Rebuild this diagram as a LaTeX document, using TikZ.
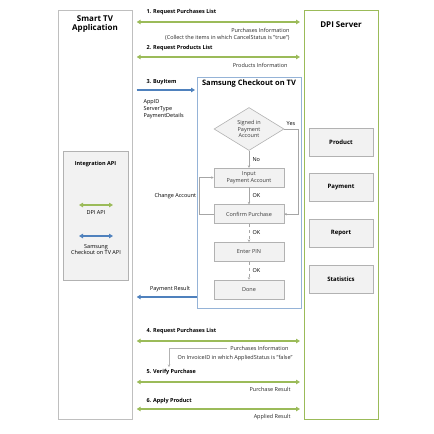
\documentclass[tikz,border=0pt]{standalone}
\usepackage{fontspec}
\setmainfont{Open Sans}
\usepackage{tikz}
\usetikzlibrary{positioning,arrows.meta,shapes.geometric}
\definecolor{dpigreen}{HTML}{9BBB59}
\definecolor{sctvblue}{HTML}{4F81BD}

\begin{document}
\begin{tikzpicture}[x=1pt, y=-1pt,
lane/.style = {draw=gray!50, line width=0.7pt, anchor=north west, minimum width=74pt, minimum height=409pt, inner sep=0pt},
greybox/.style = {draw=gray!60, fill=gray!10, line width=0.6pt, minimum width=70pt, minimum height=19pt, text=gray!45!black, align=center},
srvbox/.style = {greybox, minimum width=64pt, minimum height=28pt, text=black, font=\fontsize{6}{7}\selectfont\bfseries},
msg/.style = {dpigreen, line width=1.3pt, {Triangle[length=4pt,width=4.5pt]}-{Triangle[length=4pt,width=4.5pt]}},
link/.style = {msg, shorten <=4pt, shorten >=4pt},
buy/.style = {sctvblue, line width=1.3pt, -{Triangle[length=4pt,width=4.5pt]}},
flow/.style = {draw=gray!70, line width=0.5pt, -{Stealth[length=2.5pt,width=2.5pt]}},
msglabel/.style = {anchor=west, font=\fontsize{5.5}{6.5}\selectfont\bfseries},
reply/.style = {anchor=east, align=right, text=gray!30!black},
title/.style = {font=\fontsize{8}{9.5}\selectfont\bfseries, align=center}]
\tikzstyle{every node}=[font=\fontsize{5.5}{6.8}\selectfont]
\useasboundingbox (0,0) rectangle (434,434);
% lanes
\node[lane] (1) at (58,10) {};
\node[lane, draw=dpigreen] (2) at (304,10) {};
\node[title] (1t) at (95,24) {Smart TV\\Application};
\node[title] (2t) at (341,25) {DPI Server};
% samsung checkout on tv
\node[lane, draw=sctvblue!60, minimum width=104pt, minimum height=231pt] (3) at (197,77) {};
\node[title, font=\fontsize{7.5}{9}\selectfont\bfseries] (3t) at (249,84) {Samsung Checkout on TV};
\node[diamond, draw=gray!60, fill=gray!10, line width=0.6pt, shape aspect=1.6, minimum width=70pt, minimum height=43pt, inner sep=0pt, align=center, text=gray!45!black] (4) at (249,129) {Signed in\\Payment\\Account};
\node[greybox] (5) [below=17pt of 4] {Input\\Payment Account};
\node[greybox] (6) [below=17pt of 5] {Confirm Purchase};
\node[greybox] (7) [below=18pt of 6] {Enter PIN};
\node[greybox] (8) [below=18pt of 7] {Done};
\draw[flow] (4) -- node[right] {No} (5);
\draw[flow] (5) -- node[right] {OK} (6);
\draw[flow, dashed] (7.north |- 6.south) -- node[right] {OK} (7);
\draw[flow, dashed] (7) -- node[right] {OK} (8);
\draw[flow] (4.east) -| ([xshift=14pt]6.east) -- (6.east);
\node (9) at (291,124) {Yes};
\draw[flow] (6.west) -- ++(-14,0) |- node[left, pos=0.25] {Change Account} (5.west);
% integration api
\node[greybox, anchor=north west, minimum width=65pt, minimum height=129pt] (10) at (63,151) {};
\node[font=\fontsize{5.5}{6.5}\selectfont\bfseries] (11) at (95.5,164) {Integration API};
\coordinate (12a) at (79,205);
\coordinate (12b) at (113,205);
\draw[msg] (12a) -- (12b);
\node (13) at (96,213) {DPI API};
\coordinate (14a) at (79,236);
\coordinate (14b) at (113,236);
\draw[msg, sctvblue] (14a) -- (14b);
\node[align=center] (15) at (96,249.5) {Samsung\\Checkout on TV API};
% dpi server parts
\node[srvbox] (16) at (341,142) {Product};
\node[srvbox] (17) at (341,187.5) {Payment};
\node[srvbox] (18) at (341,233) {Report};
\node[srvbox] (19) at (341,279) {Statistics};
% messages
\node[msglabel] (20) at (143,12) {1. Request Purchases List};
\draw[link] (1.east |- 0,22) -- (2.west |- 0,22);
\node[reply, anchor=north east] (21) at (293,25) {Purchases Information\\(Collect the items in which CancelStatus is "true")};
\node[msglabel] (22) at (143,48) {2. Request Products List};
\draw[link] (1.east |- 0,57) -- (2.west |- 0,57);
\node[reply] (23) at (291,65) {Products Information};
\node[msglabel] (24) at (143,82) {3. BuyItem};
\draw[buy, shorten <=4pt, shorten >=2pt] (1.east |- 0,90) -- (3.west |- 0,90);
\node[anchor=north west, align=left] (25) at (140,96) {AppID\\ServerType\\PaymentDetails};
\node (26) at (170,289) {Payment Result};
\draw[buy, shorten >=4pt] (3.west |- 0,297) -- (1.east |- 0,297);
\node[msglabel] (27) at (143,331) {4. Request Purchases List};
\draw[link] (1.east |- 0,341) -- (2.west |- 0,341);
\node[reply] (28) at (292,348) {Purchases Information};
\coordinate (29) at (169,367);
\draw[flow, draw=gray!60] (28.west) -| (29);
\node[reply] (30) at (296,358) {On InvoiceID in which AppliedStatus is "false"};
\node[msglabel] (31) at (143,372) {5. Verify Purchase};
\draw[link] (1.east |- 0,382) -- (2.west |- 0,382);
\node[reply] (32) at (294,389) {Purchase Result};
\node[msglabel] (33) at (143,401) {6. Apply Product};
\draw[link] (1.east |- 0,409) -- (2.west |- 0,409);
\node[reply] (34) at (294,417) {Applied Result};
\end{tikzpicture}
\end{document}
